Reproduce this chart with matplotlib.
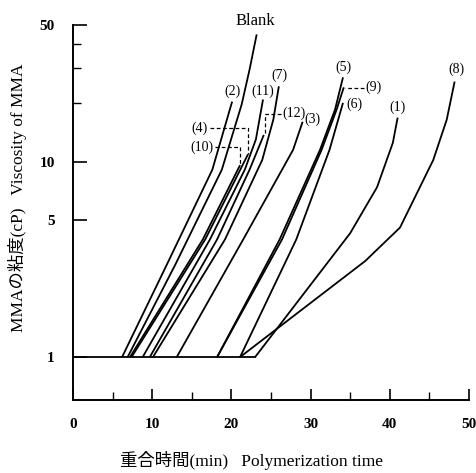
import matplotlib.pyplot as plt
from matplotlib.ticker import FixedLocator, NullFormatter

plt.rcParams['font.family'] = ['Liberation Serif', 'Noto Sans CJK JP']

# viscosity curves: polymerization time (min) / viscosity (cP)
base_x = [0, 23.0]
base_y = [1, 1]

blank_x = [6.9, 12.9, 18.8, 21.3, 22.3, 23.2]
blank_y = [1, 2.96, 9.1, 19.6, 29.6, 44.8]

c2_x = [6.2, 11.9, 17.6, 20.1]
c2_y = [1, 3.0, 9.1, 20.3]

c4_x = [7.4, 16.7, 22.1]
c4_y = [1, 4.0, 10.9]

c10_x = [7.2, 16.4, 21.1]
c10_y = [1, 4.0, 9.6]

c11_x = [8.8, 17.3, 21.7, 23.1, 24.0]
c11_y = [1, 4.0, 9.1, 13.0, 20.8]

c12_x = [9.7, 18.2, 22.3, 24.1]
c12_y = [1, 4.0, 9.1, 13.7]

c7_x = [10.1, 19.2, 23.9, 25.3, 26.0]
c7_y = [1, 4.0, 10.2, 16.4, 24.3]

c3_x = [13.1, 21.5, 27.8, 29.0]
c3_y = [1, 4.0, 11.5, 16.0]

c5_x = [18.2, 26.1, 31.2, 33.1, 34.1]
c5_y = [1, 4.0, 11.5, 18.5, 27.0]

c9_x = [18.2, 26.4, 31.4, 33.3, 34.2]
c9_y = [1, 4.0, 11.5, 18.5, 24.0]

c6_x = [21.1, 28.2, 32.4, 34.1]
c6_y = [1, 4.0, 11.5, 20.0]

c1_x = [23.0, 28.7, 35.0, 38.4, 40.4, 41.0]
c1_y = [1, 2.0, 4.3, 7.4, 12.5, 16.8]

c8_x = [21.1, 36.9, 41.3, 45.5, 47.2, 48.2]
c8_y = [1, 3.1, 4.6, 10.2, 16.4, 25.7]

x_ticks = [0, 10, 20, 30, 40, 50]
y_ticks = [1, 5, 10, 50]

fig = plt.figure(figsize=(4.77, 4.73), dpi=100)
ax = fig.add_axes([0.153, 0.154, 0.830, 0.793])
ax.set_yscale('log')

lw = 1.3
ax.plot(base_x, base_y, color='black', lw=lw)
for xs, ys in [(blank_x, blank_y), (c2_x, c2_y), (c4_x, c4_y), (c10_x, c10_y),
               (c11_x, c11_y), (c12_x, c12_y), (c7_x, c7_y), (c3_x, c3_y),
               (c5_x, c5_y), (c9_x, c9_y), (c6_x, c6_y), (c1_x, c1_y),
               (c8_x, c8_y)]:
    ax.plot(xs, ys, color='black', lw=lw, solid_capstyle='butt')

ax.set_xlim(0, 50)
ax.set_ylim(0.602, 50)

ax.spines['top'].set_visible(False)
ax.spines['right'].set_visible(False)
ax.spines['left'].set_linewidth(1.4)
ax.spines['bottom'].set_linewidth(1.4)

ax.xaxis.set_major_locator(FixedLocator(x_ticks))
ax.xaxis.set_minor_locator(FixedLocator([5, 15, 25, 35, 45]))
ax.yaxis.set_major_locator(FixedLocator(y_ticks))
ax.yaxis.set_minor_locator(FixedLocator([20, 30, 40]))
ax.yaxis.set_minor_formatter(NullFormatter())
ax.set_yticklabels([str(v) for v in y_ticks])
ax.set_xticklabels([str(v) for v in x_ticks])
ax.tick_params(axis='both', which='major', direction='in', width=1.2,
               labelsize=11, pad=13)
ax.tick_params(axis='y', which='major', length=10)
ax.tick_params(axis='x', which='major', length=8)
ax.tick_params(axis='both', which='minor', direction='in', width=1.0, length=6)
for lab in ax.get_xticklabels() + ax.get_yticklabels():
    lab.set_fontweight('bold')

ax.set_xlabel('重合時間(min)   Polymerization time', fontsize=12.5)
ax.xaxis.set_label_coords(0.45, -0.135)
ax.set_ylabel('MMAの粘度(cP)   Viscosity of MMA', fontsize=12.5)
ax.yaxis.set_label_coords(-0.115, 0.54)

fs = 10
txt = dict(fontsize=fs, ha='center', va='center', clip_on=False)
ax.text(23.0, 52.5, 'Blank', fontsize=12, ha='center', va='center', clip_on=False)
ax.text(20.1, 22.9, '(2)', **txt)
ax.text(24.0, 22.9, '(11)', **txt)
ax.text(26.1, 27.6, '(7)', **txt)
ax.text(30.3, 16.4, '(3)', **txt)
ax.text(34.1, 30.3, '(5)', **txt)
ax.text(35.5, 19.6, '(6)', **txt)
ax.text(41.0, 18.9, '(1)', **txt)
ax.text(48.4, 29.6, '(8)', **txt)
ax.text(17.0, 14.9, '(4)', fontsize=fs, ha='right', va='center')
ax.text(17.8, 11.9, '(10)', fontsize=fs, ha='right', va='center')
ax.text(26.4, 17.6, '(12)', fontsize=fs, ha='left', va='center')
ax.text(36.9, 23.9, '(9)', fontsize=fs, ha='left', va='center')

# dashed leaders to the crowded curve ends
dash = dict(color='black', lw=0.9, ls=(0, (3, 2)))
ax.plot([17.3, 22.1, 22.1], [14.9, 14.9, 10.9], **dash)
ax.plot([17.9, 21.1, 21.1], [11.9, 11.9, 9.6], **dash)
ax.plot([26.3, 24.2, 24.2], [17.6, 17.6, 13.7], **dash)
ax.plot([36.7, 34.3], [23.9, 23.9], **dash)

fig.savefig('out.png', dpi=100)
